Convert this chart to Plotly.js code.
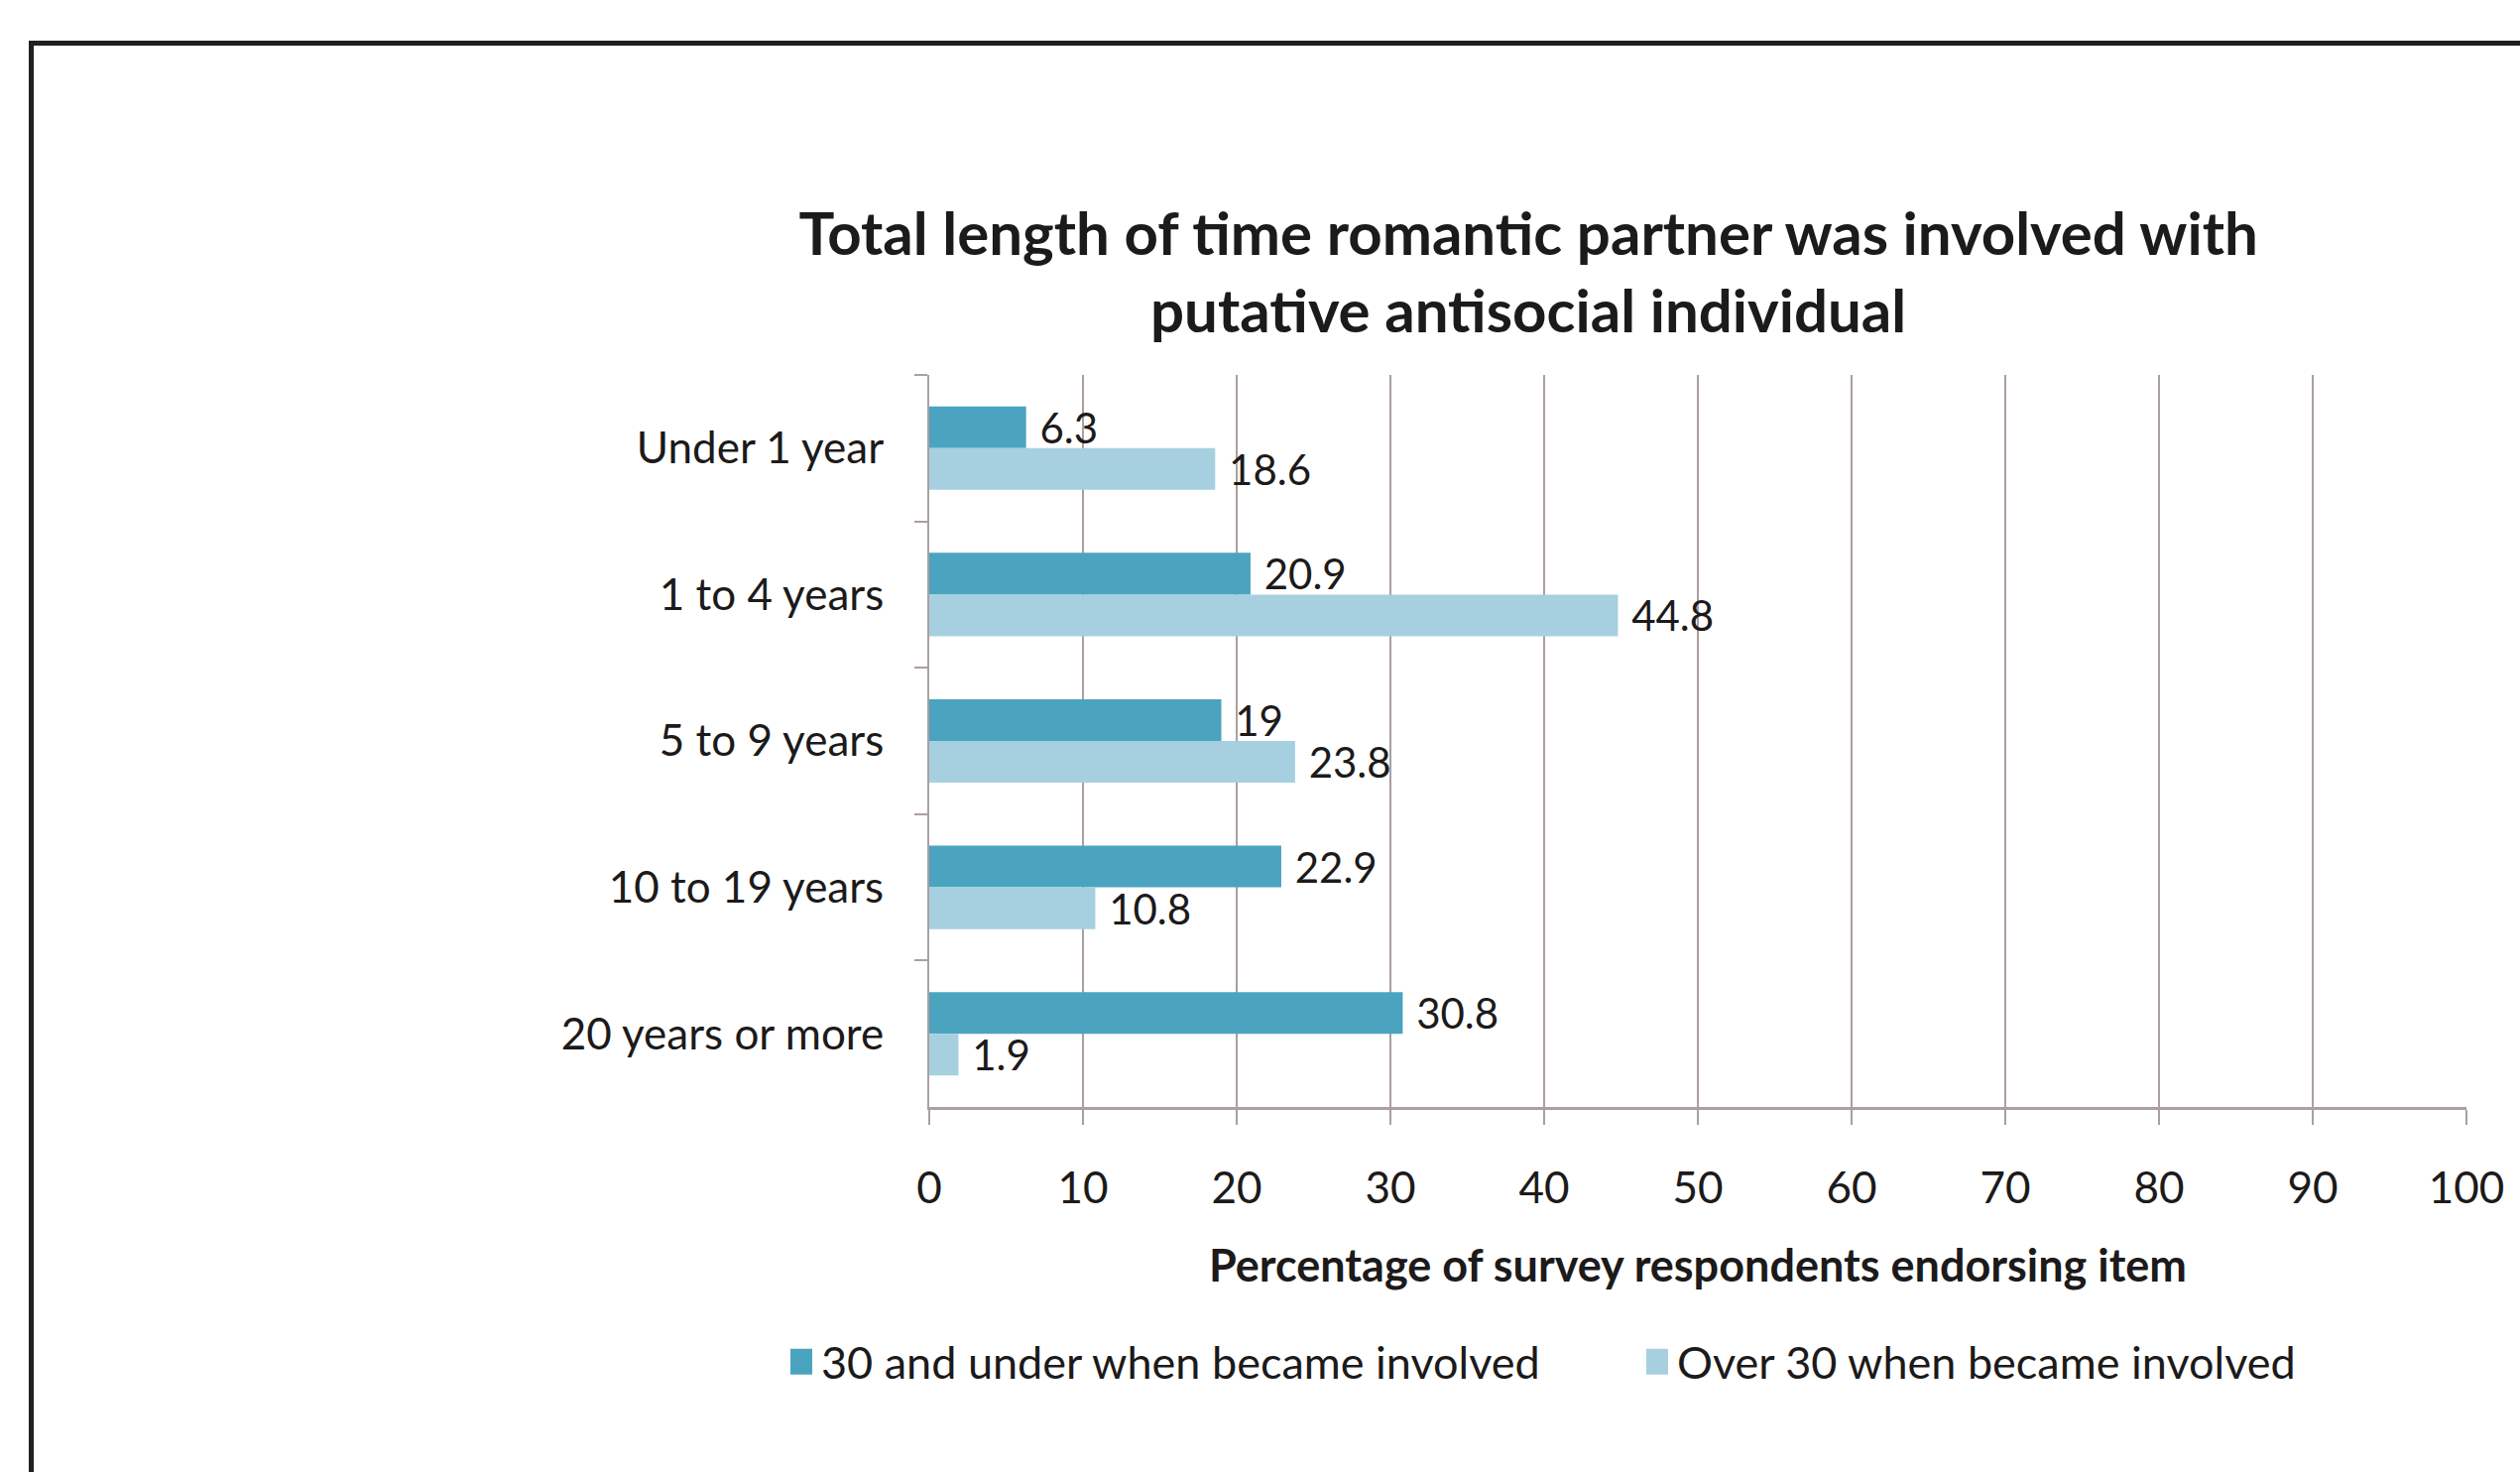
<!DOCTYPE html>
<html>
<head>
<meta charset="utf-8">
<script src="https://cdn.plot.ly/plotly-3.0.1.min.js"></script>
<style>
  html, body { margin: 0; padding: 0; background: #ffffff; }
  #frame { position: absolute; left: 29px; top: 41px; width: 2600px; height: 1500px;
           border-left: 5px solid #231f20; border-top: 5px solid #231f20; box-sizing: border-box; pointer-events: none; z-index: 5; }
  #chart { width: 2541px; height: 1484px; }
</style>
</head>
<body>
<div id="frame"></div>
<div id="chart"></div>
<script>
const categories = ['Under 1 year', '1 to 4 years', '5 to 9 years', '10 to 19 years', '20 years or more'];
const seriesNames = ['30 and under when became involved', 'Over 30 when became involved'];
const under30 = [6.3, 20.9, 19, 22.9, 30.8];
const over30 = [18.6, 44.8, 23.8, 10.8, 1.9];
const xTicks = [0, 10, 20, 30, 40, 50, 60, 70, 80, 90, 100];
const titleText = 'Total length of time romantic partner was involved with<br>putative antisocial individual';
const xTitle = 'Percentage of survey respondents endorsing item';

const FONT = 'Lato, "Open Sans", sans-serif';
const TXT = '#1c1a1a';
const GRID = '#ab9f9f';

function barTrace(name, vals, color) {
  return {
    type: 'bar', orientation: 'h', name: name,
    y: categories, x: vals,
    text: vals.map(v => '\u00a0' + v),
    textposition: 'outside', constraintext: 'none', cliponaxis: false,
    textfont: { family: FONT, size: 42, color: TXT },
    marker: { color: color, line: { width: 0 } },
    hoverinfo: 'x+y'
  };
}

const data = [
  barTrace(seriesNames[0], under30, '#4aa4bf'),
  barTrace(seriesNames[1], over30, '#a6d0e0')
];

const layout = {
  width: 2541, height: 1484,
  paper_bgcolor: '#ffffff', plot_bgcolor: '#ffffff',
  margin: { l: 937, r: 54, t: 378, b: 368, autoexpand: false },
  font: { family: FONT, color: TXT, size: 42 },
  barmode: 'group', bargap: 0.43, bargroupgap: 0,
  title: {
    text: titleText,
    font: { family: FONT, size: 60, color: TXT, weight: 'bold' },
    xref: 'container', x: 0.6065, xanchor: 'center',
    yref: 'container', y: 1 - 257 / 1484, yanchor: 'top'
  },
  xaxis: {
    range: [0, 100], tickvals: xTicks, ticktext: xTicks.map(String),
    showgrid: true, gridcolor: GRID, gridwidth: 2,
    zeroline: false, showline: true, linecolor: GRID, linewidth: 3,
    ticks: 'outside', ticklen: 15, tickwidth: 2, tickcolor: GRID,
    ticklabelstandoff: 26,
    tickfont: { family: FONT, size: 44, color: TXT },
    title: { text: xTitle, font: { family: FONT, size: 45, color: TXT, weight: 'bold' }, standoff: 40 },
    fixedrange: true
  },
  yaxis: {
    type: 'category', autorange: 'reversed',
    showgrid: false, zeroline: false, showline: true, linecolor: GRID, linewidth: 2,
    ticks: 'outside', tickson: 'boundaries', ticklen: 13, tickwidth: 2, tickcolor: GRID,
    ticklabelstandoff: 35,
    tickfont: { family: FONT, size: 44, color: TXT },
    fixedrange: true
  },
  showlegend: true,
  legend: {
    orientation: 'h', traceorder: 'normal',
    xref: 'paper', x: (788 - 937) / 1550, xanchor: 'left',
    yref: 'paper', y: (1116 - 1373) / 738, yanchor: 'middle',
    font: { family: FONT, size: 45, color: TXT },
    itemwidth: 30, entrywidth: 818, entrywidthmode: 'pixels',
    bgcolor: 'rgba(0,0,0,0)'
  }
};

Plotly.newPlot('chart', data, layout, { displayModeBar: false, staticPlot: true }).then(function (gd) {
  gd.querySelectorAll('.legend .legendpoints path').forEach(function (p) {
    p.setAttribute('d', 'M-11,-13H11V13H-11Z');
  });
});
</script>
</body>
</html>
